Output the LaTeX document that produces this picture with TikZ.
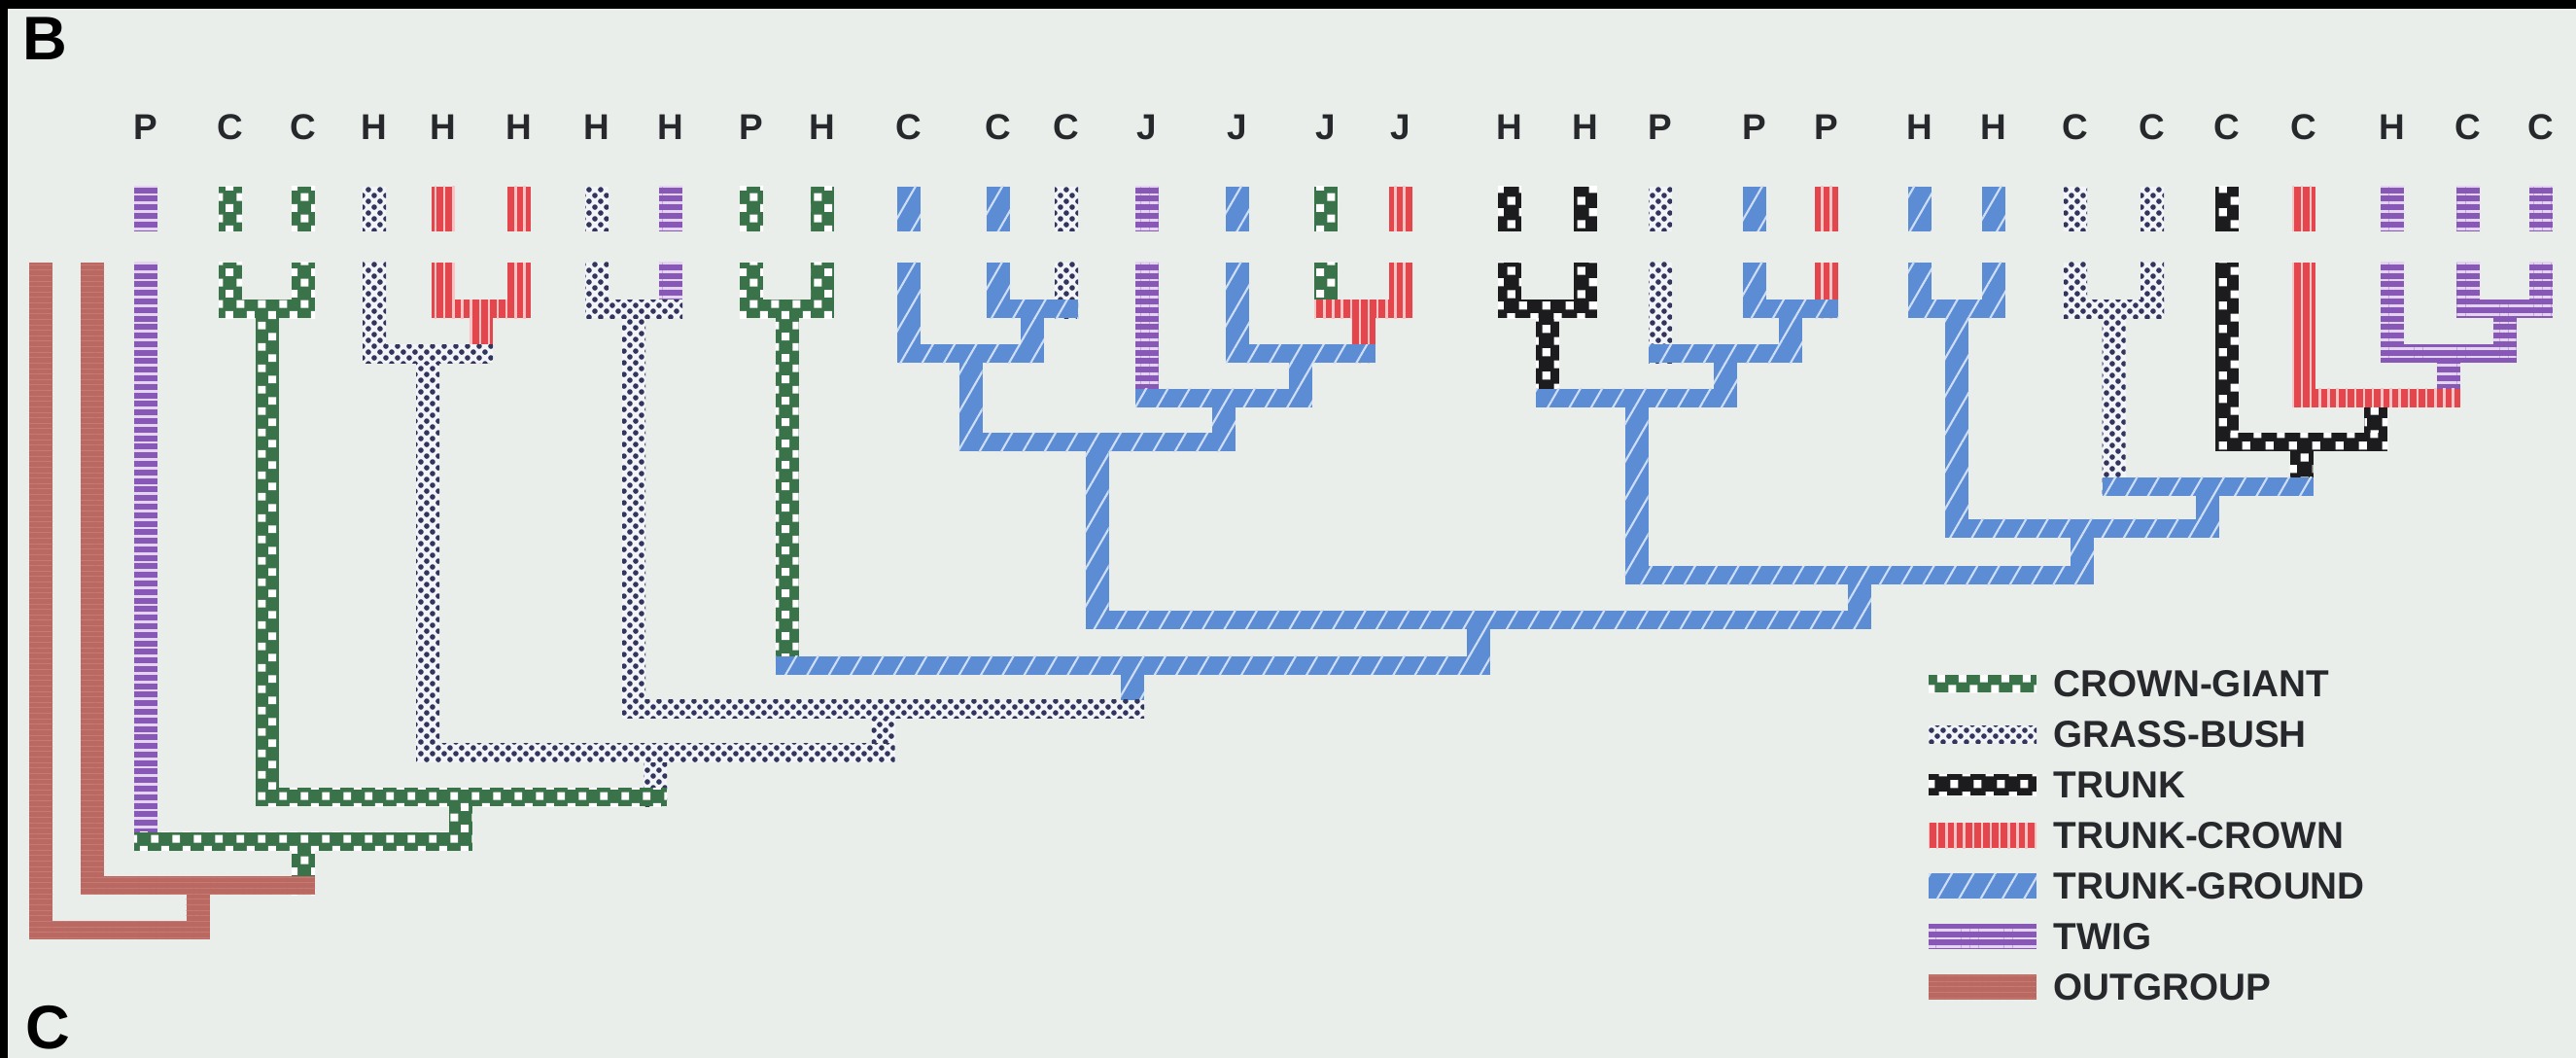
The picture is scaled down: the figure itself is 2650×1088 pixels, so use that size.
\documentclass[tikz,border=0pt]{standalone}
\usepackage{fontspec}
\setmainfont{Liberation Sans}
\usetikzlibrary{calc,patterns,patterns.meta}

% palette
\definecolor{paper}{RGB}{233,238,234}
\definecolor{twigc}{RGB}{136,88,182}
\definecolor{twigl}{RGB}{228,212,240}
\definecolor{redc}{RGB}{228,70,78}
\definecolor{redl}{RGB}{248,196,196}
\definecolor{bluec}{RGB}{92,140,212}
\definecolor{bluel}{RGB}{205,222,246}
\definecolor{cgc}{RGB}{58,114,74}
\definecolor{trunkc}{RGB}{28,28,30}
\definecolor{gbc}{RGB}{50,54,92}
\definecolor{gbl}{RGB}{242,244,248}
\definecolor{outc}{RGB}{186,104,98}
\definecolor{outl}{RGB}{198,122,114}
\definecolor{ink}{RGB}{38,40,44}

% texture tiles
\pgfdeclarepatternformonly{cgcells}{\pgfpointorigin}{\pgfqpoint{6.26pt}{6.26pt}}{\pgfqpoint{6.26pt}{6.26pt}}{%
  \pgfpathrectangle{\pgfqpoint{0.4pt}{0.4pt}}{\pgfqpoint{2.33pt}{2.33pt}}%
  \pgfpathrectangle{\pgfqpoint{3.53pt}{3.53pt}}{\pgfqpoint{2.33pt}{2.33pt}}%
  \pgfusepath{fill}}
\pgfdeclarepatternformonly{trunkcells}{\pgfpointorigin}{\pgfqpoint{6.83pt}{6.83pt}}{\pgfqpoint{6.83pt}{6.83pt}}{%
  \pgfpathrectangle{\pgfqpoint{0.5pt}{0.5pt}}{\pgfqpoint{2.4pt}{2.4pt}}%
  \pgfpathrectangle{\pgfqpoint{3.92pt}{3.92pt}}{\pgfqpoint{2.4pt}{2.4pt}}%
  \pgfusepath{fill}}
\pgfdeclarepatternformonly{gbspeck}{\pgfpointorigin}{\pgfqpoint{3.4pt}{3.4pt}}{\pgfqpoint{3.4pt}{3.4pt}}{%
  \pgfpathcircle{\pgfqpoint{0.85pt}{0.85pt}}{0.8pt}%
  \pgfpathcircle{\pgfqpoint{2.55pt}{2.55pt}}{0.8pt}%
  \pgfusepath{fill}}

\tikzset{
  twigst/.style={preaction={fill=twigc},pattern={Lines[angle=0,distance=2.5pt,line width=0.8pt]},pattern color=twigl},
  tcrown/.style={preaction={fill=redc},pattern={Lines[angle=90,distance=2.6pt,line width=0.7pt]},pattern color=redl},
  tground/.style={preaction={fill=bluec},pattern={Lines[angle=60,distance=5.5pt,line width=0.6pt]},pattern color=bluel},
  cgiant/.style={preaction={fill=cgc},pattern=cgcells,pattern color=white},
  gbush/.style={preaction={fill=gbl},pattern=gbspeck,pattern color=gbc},
  trunkst/.style={preaction={fill=trunkc},pattern=trunkcells,pattern color=white},
  outgrp/.style={preaction={fill=outc},pattern={Lines[angle=0,distance=1.6pt,line width=0.25pt]},pattern color=outl},
  tiplab/.style={font=\fontsize{10.5}{12}\selectfont\bfseries,text=ink,inner sep=0pt},
  leglab/.style={font=\fontsize{11}{13}\selectfont\bfseries,text=ink,anchor=west,inner sep=0pt},
  panlab/.style={font=\fontsize{18}{20}\selectfont\bfseries,text=black,inner sep=0pt},
}

% vertical branch: from a point down to the level of its parent
\newcommand\brV[3]{\path[#1] ($(#2)+(-12,0)$) rectangle ($(#2|-#3)+(12,9.5)$);}
% horizontal bar of a node, spanning its two daughters
\newcommand\brH[4]{\path[#1] ($(#2|-#4)+(-12,-9.5)$) rectangle ($(#3|-#4)+(12,9.5)$);}
% short state mark above a terminal
\newcommand\tipmark[2]{\path[#1] ($(#2)+(-12,-78)$) rectangle ($(#2)+(12,-32)$);}

\begin{document}
\begin{tikzpicture}[x=0.01cm,y=-0.01cm]
\useasboundingbox (0,0) rectangle (2650,1088);
\fill[paper] (0,0) rectangle (2650,1088);
\fill[black] (0,0) rectangle (8,1088);
\fill[black] (0,0) rectangle (2650,9);

\node[panlab] (panB) at (46,40) {B};
\node[panlab] (panC) at (49,1057) {C};

% terminals
\foreach \i/\x/\t in {1/150/P,2/237/C,3/312/C,4/385/H,5/456/H,6/534/H,7/614/H,8/690/H,
  9/773/P,10/846/H,11/935/C,12/1027/C,13/1097/C,14/1180/J,15/1273/J,16/1364/J,17/1441/J,
  18/1553/H,19/1631/H,20/1708/P,21/1805/P,22/1879/P,23/1975/H,24/2051/H,25/2135/C,
  26/2214/C,27/2291/C,28/2370/C,29/2461/H,30/2539/C,31/2614/C}{
  \coordinate (t\i) at (\x,270);
  \node[tiplab] (lab\i) at (\x,131) {\t};
}
\coordinate (o1) at (42,270);
\coordinate (o2) at (95,270);

% internal nodes
\coordinate (n23) at (274.5,318);
\coordinate (n56) at (495,318);
\coordinate (n4) at (440,363.6);
\coordinate (n78) at (652,318);
\coordinate (n910) at (809.5,318);
\coordinate (n1213) at (1062,318);
\coordinate (n11) at (998.5,363.6);
\coordinate (n1617) at (1402.5,318);
\coordinate (n15) at (1337.8,363.6);
\coordinate (n14) at (1258.9,409.2);
\coordinate (nA) at (1128.7,454.8);
\coordinate (n1819) at (1592,318);
\coordinate (n2122) at (1842,318);
\coordinate (n20) at (1775,363.6);
\coordinate (nB) at (1683.5,409.2);
\coordinate (n2324) at (2013,318);
\coordinate (n2526) at (2174.5,318);
\coordinate (n3031) at (2576.5,318);
\coordinate (n29) at (2518.8,363.6);
\coordinate (n28) at (2444.4,409.2);
\coordinate (n27) at (2367.7,454.8);
\coordinate (nC) at (2271.1,500.4);
\coordinate (nD) at (2142,543);
\coordinate (nE) at (1912.8,591.6);
\coordinate (nF) at (1520.7,637.2);
\coordinate (nG) at (1165.1,684);
\coordinate (nH) at (908.6,729);
\coordinate (nI) at (674.3,774);
\coordinate (nJ) at (474.4,819.6);
\coordinate (nK) at (312.2,865.2);
\coordinate (nL) at (203.6,910.8);
\coordinate (nM) at (123,956.4);

% state marks
\tipmark{twigst}{t1}
\tipmark{cgiant}{t2} \tipmark{cgiant}{t3}
\tipmark{gbush}{t4}
\tipmark{tcrown}{t5} \tipmark{tcrown}{t6}
\tipmark{gbush}{t7} \tipmark{twigst}{t8}
\tipmark{cgiant}{t9} \tipmark{cgiant}{t10}
\tipmark{tground}{t11} \tipmark{tground}{t12} \tipmark{gbush}{t13}
\tipmark{twigst}{t14} \tipmark{tground}{t15} \tipmark{cgiant}{t16} \tipmark{tcrown}{t17}
\tipmark{trunkst}{t18} \tipmark{trunkst}{t19}
\tipmark{gbush}{t20} \tipmark{tground}{t21} \tipmark{tcrown}{t22}
\tipmark{tground}{t23} \tipmark{tground}{t24}
\tipmark{gbush}{t25} \tipmark{gbush}{t26}
\tipmark{trunkst}{t27} \tipmark{tcrown}{t28}
\tipmark{twigst}{t29} \tipmark{twigst}{t30} \tipmark{twigst}{t31}

% terminal branches
\brV{outgrp}{o1}{nM}
\brV{outgrp}{o2}{nL}
\brV{twigst}{t1}{nK}
\brV{cgiant}{t2}{n23} \brV{cgiant}{t3}{n23}
\brV{gbush}{t4}{n4}
\brV{tcrown}{t5}{n56} \brV{tcrown}{t6}{n56}
\brV{gbush}{t7}{n78} \brV{twigst}{t8}{n78}
\brV{cgiant}{t9}{n910} \brV{cgiant}{t10}{n910}
\brV{tground}{t11}{n11}
\brV{tground}{t12}{n1213} \brV{gbush}{t13}{n1213}
\brV{twigst}{t14}{n14}
\brV{tground}{t15}{n15}
\brV{cgiant}{t16}{n1617} \brV{tcrown}{t17}{n1617}
\brV{trunkst}{t18}{n1819} \brV{trunkst}{t19}{n1819}
\brV{gbush}{t20}{n20}
\brV{tground}{t21}{n2122} \brV{tcrown}{t22}{n2122}
\brV{tground}{t23}{n2324} \brV{tground}{t24}{n2324}
\brV{gbush}{t25}{n2526} \brV{gbush}{t26}{n2526}
\brV{trunkst}{t27}{n27}
\brV{tcrown}{t28}{n28}
\brV{twigst}{t29}{n29}
\brV{twigst}{t30}{n3031} \brV{twigst}{t31}{n3031}

% internal branches
\brV{cgiant}{n23}{nJ}
\brV{tcrown}{n56}{n4}
\brV{gbush}{n4}{nI}
\brV{gbush}{n78}{nH}
\brV{cgiant}{n910}{nG}
\brV{tground}{n1213}{n11}
\brV{tground}{n11}{nA}
\brV{tcrown}{n1617}{n15}
\brV{tground}{n15}{n14}
\brV{tground}{n14}{nA}
\brV{tground}{nA}{nF}
\brV{trunkst}{n1819}{nB}
\brV{tground}{n2122}{n20}
\brV{tground}{n20}{nB}
\brV{tground}{nB}{nE}
\brV{tground}{n2324}{nD}
\brV{gbush}{n2526}{nC}
\brV{twigst}{n3031}{n29}
\brV{twigst}{n29}{n28}
\brV{trunkst}{n28}{n27}
\brV{trunkst}{n27}{nC}
\brV{tground}{nC}{nD}
\brV{tground}{nD}{nE}
\brV{tground}{nE}{nF}
\brV{tground}{nF}{nG}
\brV{tground}{nG}{nH}
\brV{gbush}{nH}{nI}
\brV{gbush}{nI}{nJ}
\brV{cgiant}{nJ}{nK}
\brV{cgiant}{nK}{nL}
\brV{outgrp}{nL}{nM}

% node bars
\brH{cgiant}{t2}{t3}{n23}
\brH{tcrown}{t5}{t6}{n56}
\brH{gbush}{t4}{n56}{n4}
\brH{gbush}{t7}{t8}{n78}
\brH{cgiant}{t9}{t10}{n910}
\brH{tground}{t12}{t13}{n1213}
\brH{tground}{t11}{n1213}{n11}
\brH{tcrown}{t16}{t17}{n1617}
\brH{tground}{t15}{n1617}{n15}
\brH{tground}{t14}{n15}{n14}
\brH{tground}{n11}{n14}{nA}
\brH{trunkst}{t18}{t19}{n1819}
\brH{tground}{t21}{t22}{n2122}
\brH{tground}{t20}{n2122}{n20}
\brH{tground}{n1819}{n20}{nB}
\brH{tground}{t23}{t24}{n2324}
\brH{gbush}{t25}{t26}{n2526}
\brH{twigst}{t30}{t31}{n3031}
\brH{twigst}{t29}{n3031}{n29}
\brH{tcrown}{t28}{n29}{n28}
\brH{trunkst}{t27}{n28}{n27}
\brH{tground}{n2526}{n27}{nC}
\brH{tground}{n2324}{nC}{nD}
\brH{tground}{nB}{nD}{nE}
\brH{tground}{nA}{nE}{nF}
\brH{tground}{n910}{nF}{nG}
\brH{gbush}{n78}{nG}{nH}
\brH{gbush}{n4}{nH}{nI}
\brH{cgiant}{n23}{nI}{nJ}
\brH{cgiant}{t1}{nJ}{nK}
\brH{outgrp}{o2}{nK}{nL}
\brH{outgrp}{o1}{nL}{nM}

% key
\foreach \k/\s/\h/\txt in {0/cgiant/9/CROWN-GIANT,1/gbush/9/GRASS-BUSH,2/trunkst/11/TRUNK,
  3/tcrown/13/TRUNK-CROWN,4/tground/13/TRUNK-GROUND,5/twigst/13/TWIG,6/outgrp/13/OUTGROUP}{
  \path[\s] (1984,703+52*\k-\h) rectangle (2095,703+52*\k+\h);
  \node[leglab] (key\k) at (2112,703+52*\k) {\txt};
}
\end{tikzpicture}
\end{document}
